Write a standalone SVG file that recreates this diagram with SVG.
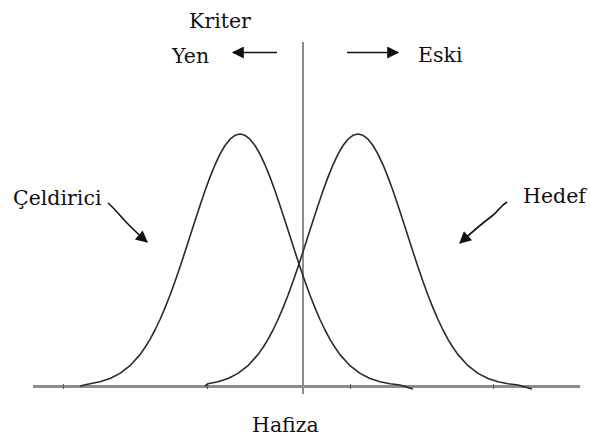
<svg xmlns="http://www.w3.org/2000/svg" width="591" height="438" viewBox="0 0 591 438">
<style>
.t{font-family:"DejaVu Serif","Liberation Serif",serif;font-size:20.5px;fill:#111}
.curve{fill:none;stroke:#2a2a2a;stroke-width:1.6;stroke-linejoin:round}
.axis{stroke:#8c8c8c;fill:none}
.arr{stroke:#111;stroke-width:1.6;fill:none}
</style>
<defs>
<marker id="ah" viewBox="0 0 10 10" refX="9" refY="5" markerWidth="15" markerHeight="12" markerUnits="userSpaceOnUse" orient="auto">
<path d="M0,0 L10,5 L0,10 z" fill="#111"/>
</marker>
</defs>
<g id="axes">
<line class="axis" x1="33" y1="386.5" x2="580" y2="386.5" stroke-width="3"/>
<line class="axis" x1="303" y1="42" x2="303" y2="394" stroke-width="2"/>
<g stroke="#555" stroke-width="1">
<line x1="63.5" y1="384" x2="63.5" y2="389"/>
<line x1="207.5" y1="384" x2="207.5" y2="389"/>
<line x1="350.5" y1="384" x2="350.5" y2="389"/>
<line x1="493.5" y1="384" x2="493.5" y2="389"/>
</g>
</g>
<g id="celdirici-curve">
<polyline class="curve" points="80,386 90,383.7 100,381.7 110,378.5 120,373.4 130,365.7 140,354.6 145,347.5 150,339.4 155,330 160,319.5 165,307.9 170,295.2 175,281.4 180,266.9 185,251.8 190,236.3 195,220.7 200,205.4 205,190.7 210,177.1 215,164.8 220,154.1 225,145.5 230,139.2 235,135.3 240,134 245,135.3 250,139.2 255,145.5 260,154.1 265,164.8 270,177.1 275,190.7 280,205.4 285,220.7 290,236.3 295,251.8 300,266.9 305,281.4 310,295.2 315,307.9 320,319.5 325,330 330,339.4 335,347.5 340,354.6 350,365.7 360,373.4 370,378.5 380,381.7 390,383.7 400,385 413,389"/>
</g>
<g id="hedef-curve">
<polyline class="curve" points="205,386 208,383.7 218,381.7 228,378.5 238,373.4 248,365.7 258,354.6 263,347.5 268,339.4 273,330 278,319.5 283,307.9 288,295.2 293,281.4 298,266.9 303,251.8 308,236.3 313,220.7 318,205.4 323,190.7 328,177.1 333,164.8 338,154.1 343,145.5 348,139.2 353,135.3 358,134 363,135.3 368,139.2 373,145.5 378,154.1 383,164.8 388,177.1 393,190.7 398,205.4 403,220.7 408,236.3 413,251.8 418,266.9 423,281.4 428,295.2 433,307.9 438,319.5 443,330 448,339.4 453,347.5 458,354.6 468,365.7 478,373.4 488,378.5 498,381.7 508,383.7 518,385 532,389"/>
</g>
<g id="connectors">
<line class="arr" x1="277" y1="52.5" x2="233" y2="52.5" marker-end="url(#ah)"/>
<line class="arr" x1="347" y1="52.5" x2="398" y2="52.5" marker-end="url(#ah)"/>
<path class="arr" d="M108,203 C116,210 122,218 128,224 C134,230 140,236 147,242" marker-end="url(#ah)"/>
<path class="arr" d="M507,202 C500,206 498,212 492,216 C484,222 472,232 460,243" marker-end="url(#ah)"/>
</g>
<g id="kriter"><text class="t" x="220" y="28" text-anchor="middle">Kriter</text></g>
<g id="yen"><text class="t" x="172" y="63">Yen</text></g>
<g id="eski"><text class="t" x="418" y="62">Eski</text></g>
<g id="celdirici"><text class="t" x="13" y="205">Çeldirici</text></g>
<g id="hedef"><text class="t" x="523" y="203">Hedef</text></g>
<g id="hafiza"><text class="t" x="252" y="432">Hafiza</text></g>
</svg>
